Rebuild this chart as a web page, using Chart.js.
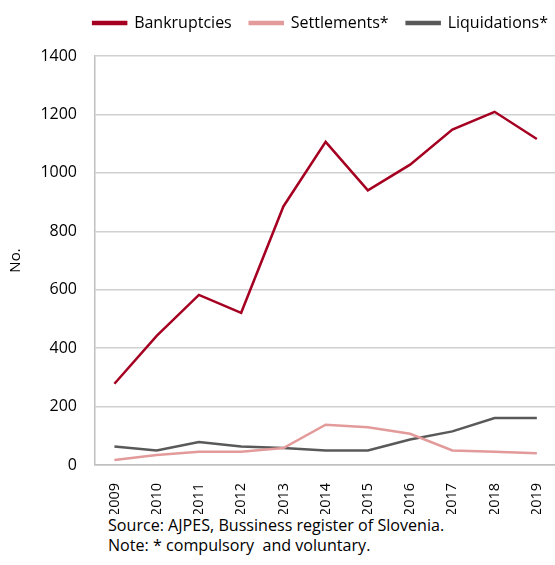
<!DOCTYPE html>
<html>
<head>
<meta charset="utf-8">
<script src="https://cdn.jsdelivr.net/npm/chart.js@4"></script>
<style>
  html, body { margin: 0; padding: 0; background: #fff; }
  #wrap { position: relative; width: 555px; height: 565px; }
  #chartBox { position: absolute; left: 0; top: 0; width: 555px; height: 514px; }
  #note { position: absolute; left: 108px; top: 515px; font-family: "Open Sans", sans-serif; font-size: 16.1px; line-height: 20px; color: #000; }
</style>
</head>
<body>
<div id="wrap">
  <div id="chartBox"><canvas id="myChart"></canvas></div>
  <div id="note">Source: AJPES, Bussiness register of Slovenia.<br>Note: * compulsory&nbsp; and voluntary.</div>
</div>
<script>
const years = [2009, 2010, 2011, 2012, 2013, 2014, 2015, 2016, 2017, 2018, 2019];
const bankruptcies = [278, 442, 582, 521, 885, 1106, 940, 1028, 1148, 1209, 1116];
const settlements = [17, 34, 45, 45, 58, 138, 129, 107, 50, 45, 40];
const liquidations = [63, 50, 79, 63, 58, 50, 50, 87, 115, 161, 161];
const yTicks = [0, 200, 400, 600, 800, 1000, 1200, 1400];

const font = { family: '"Open Sans", sans-serif', size: 15 };

const toPoints = (vals) => vals.map((v, i) => ({ x: years[i], y: v }));

// legend: extra room below it, and nudge it up/right a bit
const legendTweak = {
	id: 'legendTweak',
	beforeInit(chart) {
		const fit = chart.legend.fit;
		chart.legend.fit = function () {
			fit.bind(chart.legend)();
			this.height += 12;
		};
	},
	afterLayout(chart) {
		const lg = chart.legend;
		lg.left += 11;
		lg.right += 11;
		lg.top -= 3;
		lg.bottom -= 3;
	},
};

const ctx = document.getElementById('myChart');
new Chart(ctx, {
	type: 'line',
	data: {
		datasets: [
			{ label: 'Bankruptcies', data: toPoints(bankruptcies), borderColor: '#A50021', backgroundColor: '#A50021' },
			{ label: 'Settlements*', data: toPoints(settlements), borderColor: '#E39A9A', backgroundColor: '#E39A9A' },
			{ label: 'Liquidations*', data: toPoints(liquidations), borderColor: '#595959', backgroundColor: '#595959' },
		],
	},
	options: {
		animation: false,
		responsive: true,
		maintainAspectRatio: false,
		elements: {
			point: { radius: 0 },
			line: { borderWidth: 2.5, tension: 0 },
		},
		layout: { padding: { left: 0, right: 0, top: 0, bottom: 0 } },
		plugins: {
			legend: {
				align: 'end',
				labels: {
					color: '#000',
					font: { family: font.family, size: 16 },
					boxWidth: 33,
					boxHeight: 2,
					padding: 18,
				},
			},
			tooltip: { enabled: false },
		},
		scales: {
			x: {
				type: 'linear',
				min: 2008.54,
				max: 2019.43,
				afterBuildTicks: (axis) => { axis.ticks = years.map(v => ({ value: v })); },
				afterFit: (axis) => { axis.paddingLeft = 0; axis.paddingRight = 0; axis.height = 49; },
				grid: { display: false, drawTicks: false },
				border: { color: '#BFBFBF', width: 1.5 },
				ticks: { color: '#000', font: { family: font.family, size: 14.5 }, maxRotation: 90, minRotation: 90, padding: 18, callback: (v) => String(v) },
			},
			y: {
				min: 0,
				max: 1400,
				afterBuildTicks: (axis) => { axis.ticks = yTicks.map(v => ({ value: v })); },
				afterFit: (axis) => { axis.width = 95; },
				grid: { color: '#D0D0D0', lineWidth: 1.5, drawTicks: false },
				border: { color: '#BFBFBF', width: 1.5 },
				ticks: { color: '#000', font: { family: font.family, size: 16 }, padding: 18, callback: (v) => String(v) },
				title: { display: true, text: 'No.', color: '#000', font: font, padding: { top: 7, bottom: 15 } },
			},
		},
	},
	plugins: [legendTweak],
});
</script>
</body>
</html>
